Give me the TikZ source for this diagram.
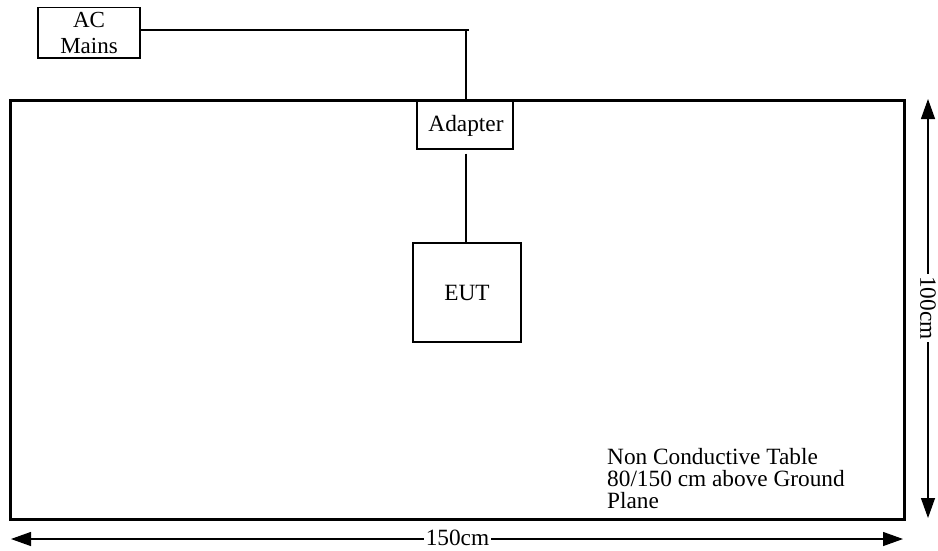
\documentclass[tikz,border=0pt]{standalone}
\usepackage{fontspec}
\setmainfont{Liberation Serif}
\usetikzlibrary{arrows.meta}
\begin{document}
\begin{tikzpicture}[x=1pt,y=-1pt,
  every node/.style={font=\fontsize{23.3}{26}\selectfont},
  box/.style={draw=black,line width=1.3pt,fill=white,rectangle,inner sep=0pt},
  wire/.style={draw=black,line width=1.3pt},
  dim/.style={draw=black,line width=1.3pt,{Triangle[length=20pt,width=14pt]}-{Triangle[length=20pt,width=14pt]}},
  dimlabel/.style={fill=white,inner sep=2pt}]
\useasboundingbox (0,0) rectangle (938,550);
% table
\draw[line width=3pt] (10,100) rectangle (904,519);
% boxes
\node[box,minimum width=102pt,minimum height=50.5pt,align=center,
      font=\fontsize{23}{26}\selectfont] (ac) at (89,32.75) {AC\\Mains};
\node[box,minimum width=96pt,minimum height=49pt] (adapter) at (465,124.5) {};
\node at (466,126) (adaptertext) {Adapter};
\node[box,minimum width=108pt,minimum height=99pt] (eut) at (467,292.5) {EUT};
% connectors
\coordinate (corner) at (466,30);
\coordinate (tickend) at (469,30);
\draw[wire] (ac.east |- corner) -- (tickend);
\draw[wire] (corner) -- (466,100);
\draw[line width=3pt] (417,100) -- (513,100);
\draw[wire,shorten <=4pt] (adapter.south -| corner) -- (eut.north -| corner);
% text (anchor is the baseline of the last line)
\node[anchor=base west,align=left,inner sep=0pt,
      font=\fontsize{23.3}{21.7}\selectfont] (tabletext) at (607,508)
  {Non Conductive Table\\80/150 cm above Ground\\Plane};
% dimensions
\coordinate (vtop) at (928,99);
\coordinate (vbot) at (928,518);
\draw[dim] (vtop) -- (vbot);
\node[dimlabel,rotate=-90] (vlabel) at (928,308) {100cm};
\coordinate (hleft) at (11,539);
\coordinate (hright) at (903,539);
\draw[dim] (hleft) -- (hright);
\node[dimlabel] (hlabel) at (457.5,538) {150cm};
\end{tikzpicture}
\end{document}
